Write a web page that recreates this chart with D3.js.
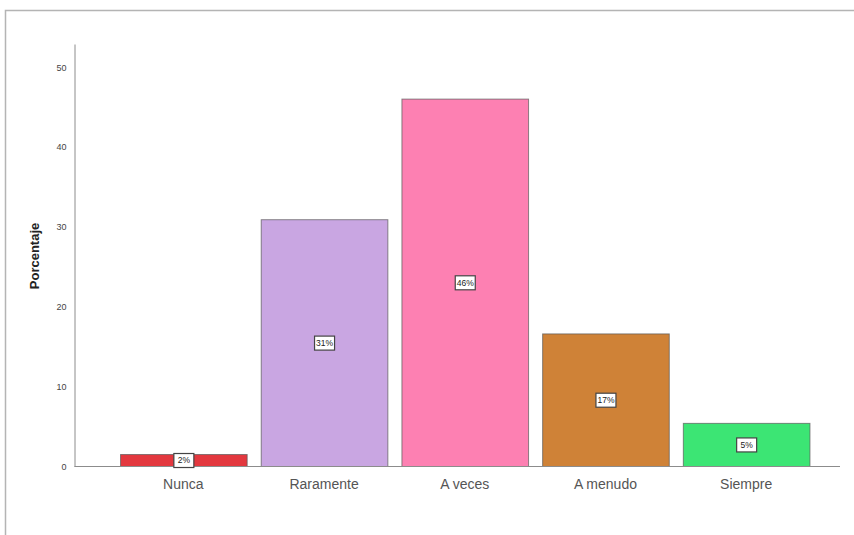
<!DOCTYPE html>
<html>
<head>
<meta charset="utf-8">
<script src="https://cdn.jsdelivr.net/npm/d3@7"></script>
<style>
  html, body { margin: 0; padding: 0; background: #fff; }
  svg { display: block; }
</style>
</head>
<body>
<svg id="chart" width="854" height="535"></svg>
<script>
// Response categories and their percentages
const categories = ["Nunca", "Raramente", "A veces", "A menudo", "Siempre"];
const percentages = [1.5, 30.9, 46.0, 16.6, 5.4];
const barColors = ["#e3383f", "#c9a6e2", "#fd80b2", "#cf8237", "#3ce574"];
const yTicks = [0, 10, 20, 30, 40, 50];

const svg = d3.select("#chart");

// Outer frame
svg.append("path")
  .attr("d", "M5.5,535 L5.5,10.5 L854,10.5")
  .attr("fill", "none")
  .attr("stroke", "#b4b4b4")
  .attr("stroke-width", 1.5);

const x = d3.scaleBand()
  .domain(categories)
  .range([113, 816.5])
  .paddingInner(0.1)
  .paddingOuter(0.05);

const y = d3.scaleLinear()
  .domain([0, 52.9])
  .range([466.5, 44]);

// Y axis
const yAxis = svg.append("g")
  .attr("transform", "translate(74.5,0)")
  .call(d3.axisLeft(y).tickValues(yTicks).tickSize(0).tickPadding(8));
yAxis.select(".domain").attr("stroke", "#8c8c8c");
yAxis.selectAll("text")
  .attr("font-family", "Liberation Sans, Arial, sans-serif")
  .attr("font-size", 9)
  .attr("fill", "#444");

// Bars
svg.append("g").selectAll("rect")
  .data(categories)
  .join("rect")
  .attr("x", d => x(d) + 0.5)
  .attr("y", (d, i) => y(percentages[i]))
  .attr("width", x.bandwidth())
  .attr("height", (d, i) => y(0) - y(percentages[i]))
  .attr("fill", (d, i) => barColors[i])
  .attr("stroke", "#5a5a5a")
  .attr("stroke-opacity", 0.7)
  .attr("stroke-width", 1);

// X axis baseline and category labels
const xAxis = svg.append("g")
  .attr("transform", "translate(0,466.5)")
  .call(d3.axisBottom(x).tickSize(0).tickPadding(13));
xAxis.select(".domain").attr("d", "M74.5,0H840").attr("stroke", "#8c8c8c");
xAxis.selectAll("text")
  .attr("font-family", "Liberation Sans Narrow, Liberation Sans, Arial, sans-serif")
  .attr("font-size", 14)
  .attr("fill", "#555");

// Value labels in boxes at bar midpoints
const labels = svg.append("g").selectAll("g")
  .data(categories)
  .join("g")
  .attr("transform", (d, i) =>
    `translate(${x(d) + x.bandwidth() / 2 + 0.5},${(y(0) + y(percentages[i])) / 2})`);
labels.append("rect")
  .attr("x", -10).attr("y", -7)
  .attr("width", 20).attr("height", 14)
  .attr("fill", "#fff")
  .attr("stroke", "#444")
  .attr("stroke-width", 1.2);
labels.append("text")
  .attr("text-anchor", "middle")
  .attr("dy", "0.35em")
  .attr("font-family", "Liberation Sans, Arial, sans-serif")
  .attr("font-size", 8.5)
  .attr("fill", "#222")
  .text((d, i) => Math.round(percentages[i]) + "%");

// Y axis title
svg.append("text")
  .attr("transform", "translate(39,256) rotate(-90)")
  .attr("text-anchor", "middle")
  .attr("font-family", "Liberation Sans, Arial, sans-serif")
  .attr("font-size", 13)
  .attr("font-weight", "bold")
  .attr("fill", "#222")
  .text("Porcentaje");
</script>
</body>
</html>
